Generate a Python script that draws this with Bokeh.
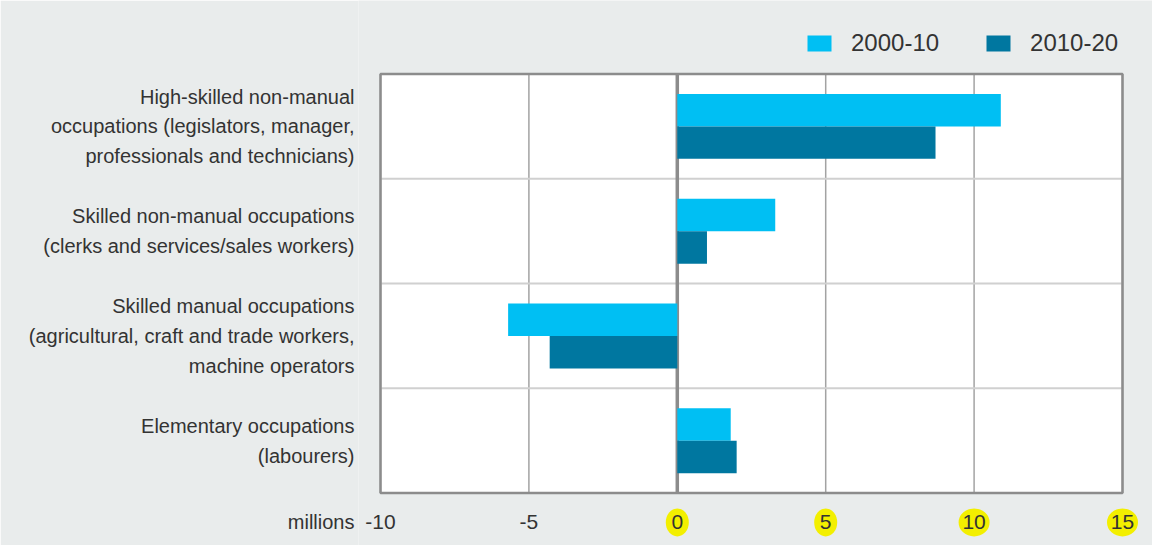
from bokeh.plotting import figure
from bokeh.models import FixedTicker, Legend, LegendItem
from bokeh.embed import file_html
from bokeh.resources import INLINE
from bokeh.core.properties import value

categories = [
    "High-skilled non-manual\noccupations (legislators, manager,\nprofessionals and technicians)",
    "Skilled non-manual occupations\n(clerks and services/sales workers)",
    "Skilled manual occupations\n(agricultural, craft and trade workers,\nmachine operators",
    "Elementary occupations\n(labourers)",
]
series = ["2000-10", "2010-20"]
values_2000_10 = [10.9, 3.3, -5.7, 1.8]
values_2010_20 = [8.7, 1.0, -4.3, 2.0]
x_ticks = [-10, -5, 0, 5, 10, 15]
highlighted_ticks = [0, 5, 10, 15]
unit_label = "millions"

FONT = "Liberation Sans"
TXT = "#333333"
C1 = "#00bff3"
C2 = "#0077a0"
BG = "#e9ecec"
GRID = "#a3a3a3"
OUTLINE = "#8c8c8c"

n = len(categories)
centers = [n - 1 - i + 0.5 for i in range(n)]
bar_h = 0.31
label_row = -0.28
PXX = 29.68   # pixels per x unit
PX = 104.8    # pixels per category band

p = figure(x_range=(x_ticks[0] - 22 / PXX, x_ticks[-1] + 30 / PXX),
           y_range=(-0.5, n + 73.5 / PX),
           frame_width=794, frame_height=545,
           min_border_left=358, min_border_right=0, min_border_top=0, min_border_bottom=0,
           x_axis_location=None, output_backend="svg", toolbar_location=None,
           background_fill_color=BG, border_fill_color=BG)
p.outline_line_color = None
p.grid.grid_line_color = None

# plot box
p.quad(left=x_ticks[0], right=x_ticks[-1], bottom=0, top=n, fill_color="white", line_color=None)
# vertical grid lines
p.segment(x0=x_ticks, y0=0, x1=x_ticks, y1=n, line_color=GRID, line_width=1.5)
# horizontal separators between categories
seps = [c + 0.5 for c in centers[1:]]
p.segment(x0=x_ticks[0], y0=seps, x1=x_ticks[-1], y1=seps, line_color="#d0d0d0", line_width=2)
# zero line
p.segment(x0=0, y0=0, x1=0, y1=n, line_color=OUTLINE, line_width=3.5)

r1 = p.hbar(y=[c + bar_h / 2 for c in centers], height=bar_h, left=0, right=values_2000_10,
            fill_color=C1, line_color=None)
r2 = p.hbar(y=[c - bar_h / 2 for c in centers], height=bar_h, left=0, right=values_2010_20,
            fill_color=C2, line_color=None)

# box outline
p.quad(left=x_ticks[0], right=x_ticks[-1], bottom=0, top=n, fill_color=None,
       line_color=OUTLINE, line_width=2.5)

# highlighted tick labels
p.ellipse(x=highlighted_ticks, y=label_row,
          width=[15 + 8 * len(str(t)) for t in highlighted_ticks], height=28,
          width_units="screen", height_units="screen", fill_color="#f3ef00", line_color=None)
# x tick labels
p.text(x=x_ticks, y=label_row, text=[str(t) for t in x_ticks], text_align="center",
       text_baseline="middle", text_font=value(FONT), text_font_size="21px", text_color=TXT)

ya = p.yaxis[0]
ya.ticker = FixedTicker(ticks=centers + [label_row])
ov = {c: lab for c, lab in zip(centers, categories)}
ov[label_row] = unit_label
ya.major_label_overrides = ov
ya.axis_line_color = None
ya.major_tick_line_color = None
ya.minor_tick_line_color = None
ya.major_tick_out = 0
ya.major_tick_in = 0
ya.major_label_standoff = 4
ya.major_label_text_font = FONT
ya.major_label_text_font_size = "20px"
ya.major_label_text_line_height = 1.35
ya.major_label_text_color = TXT

legend = Legend(items=[LegendItem(label=series[0], renderers=[r1]),
                       LegendItem(label=series[1], renderers=[r2])],
                orientation="horizontal", location=(446, 488),
                border_line_color=None, background_fill_alpha=0,
                glyph_width=30, glyph_height=20, label_standoff=17, spacing=44,
                padding=0, margin=0, label_text_font=FONT, label_text_font_size="24px",
                label_text_color=TXT)
p.add_layout(legend)

open("out.html", "w").write(file_html(p, INLINE))
